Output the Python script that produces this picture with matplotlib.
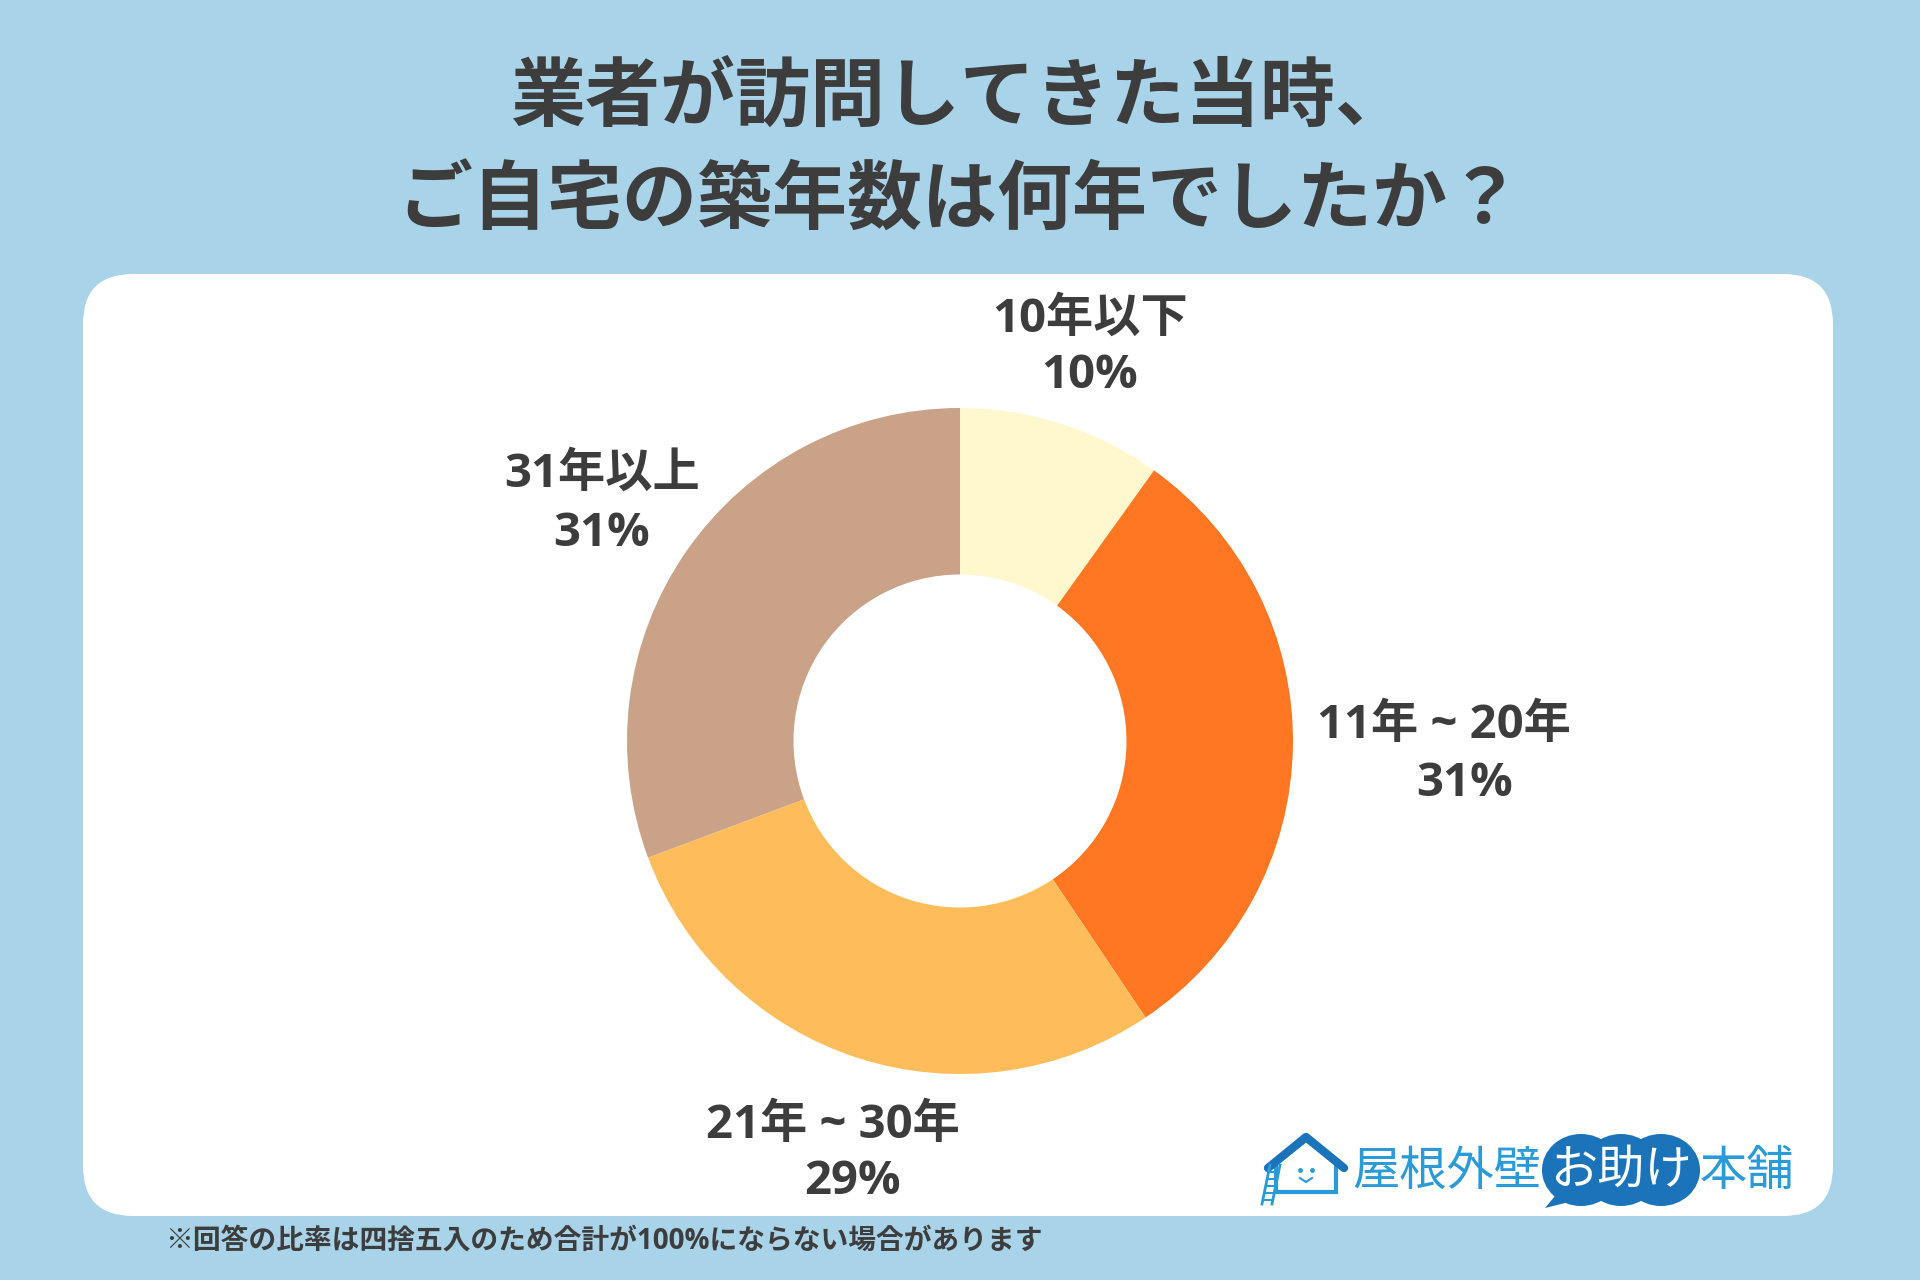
import numpy as np
import matplotlib.pyplot as plt
from matplotlib.patches import FancyBboxPatch, Ellipse, Polygon

plt.rcParams['font.family'] = ['Noto Sans CJK JP', 'DejaVu Sans']

# データ
categories = ['10年以下', '11年 ~ 20年', '21年 ~ 30年', '31年以上']
shares = [10, 31, 29, 31]
colors = ['#FFF8CF', '#FF7722', '#FFBC5A', '#CAA288']
title_lines = ['業者が訪問してきた当時、', 'ご自宅の築年数は何年でしたか？']
note = '※回答の比率は四捨五入のため合計が100%にならない場合があります'

BG = '#A9D3E8'
TXT = '#3D3D3D'
LBL_FONT = ['Open Sans', 'Noto Sans CJK JP']

fig = plt.figure(figsize=(19.2, 12.8), dpi=100)
fig.patch.set_facecolor(BG)

# 背景用の座標軸 (ピクセル座標)
bg = fig.add_axes([0, 0, 1, 1])
bg.set_xlim(0, 1920)
bg.set_ylim(1280, 0)
bg.axis('off')

panel = FancyBboxPatch((83 + 50, 274 + 50), 1750 - 100, 942 - 100,
                       boxstyle='round,pad=50', fc='white', ec='none')
bg.add_patch(panel)

for line, ty in zip(title_lines, [98, 202]):
    bg.text(960, ty, line, ha='center', va='center', fontsize=54,
            fontweight='bold', color=TXT)
bg.text(165, 1241, note, ha='left', va='center', fontsize=20,
        fontweight='bold', color=TXT, family=LBL_FONT)

# ドーナツ
cx, cy, r = 960, 741, 333
ax = fig.add_axes([(cx - r) / 1920, 1 - (cy + r) / 1280, 2 * r / 1920, 2 * r / 1280])
ax.pie(shares, colors=colors, startangle=90, counterclock=False, radius=1,
       wedgeprops=dict(width=0.5, edgecolor='none'))
ax.set_xlim(-1, 1)
ax.set_ylim(-1, 1)
ax.set_aspect('equal')
ax.axis('off')

# ラベル (カテゴリ行, %行)
cat_pos = [(1090, 319), (1444, 725), (833, 1126), (602, 474)]
pct_pos = [(1090, 376), (1465, 783), (853, 1182), (602, 533)]
for cat, v, (x1, y1), (x2, y2) in zip(categories, shares, cat_pos, pct_pos):
    bg.text(x1, y1, cat, ha='center', va='center', fontsize=34,
            fontweight='bold', color=TXT, family=LBL_FONT)
    bg.text(x2, y2, f'{v}%', ha='center', va='center', fontsize=34,
            fontweight='bold', color=TXT, family=LBL_FONT)

# ロゴ
blue = '#2A9AD8'
dark = '#1B74B9'
house = Polygon([[1276, 1163], [1306, 1140], [1336, 1163], [1336, 1192],
                 [1276, 1192]], closed=True, fc='white', ec=blue, lw=3)
bg.add_patch(house)
bg.plot([1268, 1306, 1344], [1168, 1137, 1168], color=dark, lw=6,
        solid_capstyle='round')
bg.plot([1270, 1262], [1165, 1204], color=blue, lw=2)
bg.plot([1280, 1272], [1165, 1204], color=blue, lw=2)
for k in range(5):
    yy = 1172 + k * 7
    bg.plot([1269 - k * 1.4, 1278 - k * 1.4], [yy, yy], color=blue, lw=1.5)
bg.plot([1300, 1312], [1170, 1170], ls='none', marker='o', ms=2.5, color=blue)
bg.plot([1300, 1306, 1312], [1178, 1182, 1178], color=blue, lw=1.5)
bg.text(1352, 1172, '屋根外壁', ha='left', va='center', fontsize=34,
        color=blue)
bg.add_patch(Polygon([[1560, 1190], [1545, 1208], [1585, 1198]], fc=dark, ec='none'))
for ex in (1581, 1621, 1661):
    bg.add_patch(Ellipse((ex, 1170), 78, 72, fc=dark, ec='none'))
bg.text(1621, 1170, 'お助け', ha='center', va='center', fontsize=34,
        color='white')
bg.text(1700, 1172, '本舗', ha='left', va='center', fontsize=34, color=blue)

fig.savefig('out.png', dpi=100, facecolor=BG)
